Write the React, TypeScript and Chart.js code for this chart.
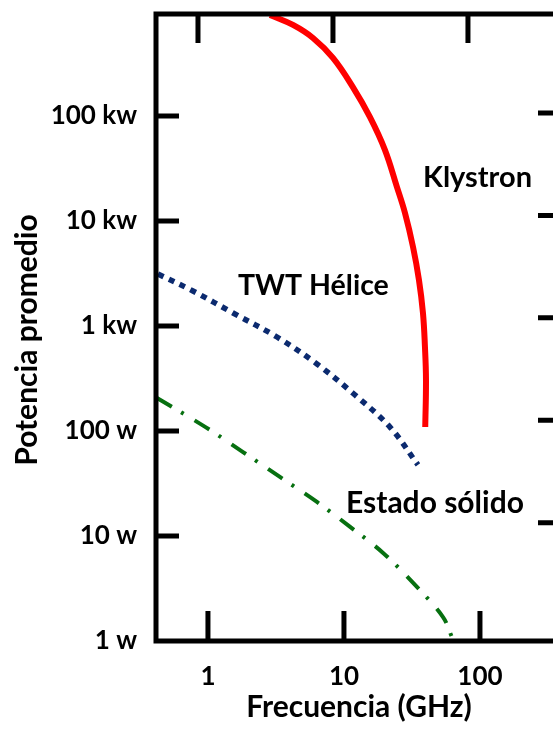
import React, { useEffect, useRef } from "react";
import { Chart, registerables } from "chart.js";

Chart.register(...registerables);

// Frequency (GHz) and average power (W)
const klystronFreq = [2.86, 4.22, 5.92, 8.3, 11.6, 15.5, 20.0, 24.5, 28.1, 32.2, 35.6, 38.1, 39.4, 40.1, 39.6];
const klystronPower = [916000, 736000, 553000, 357000, 189000, 97800, 47500, 21100, 11900, 5650, 2740, 1330, 631, 306, 109];

const twtFreq = [0.429, 0.776, 1.53, 3.22, 6.33, 11.6, 21.8, 35.0];
const twtPower = [3126, 2154, 1330, 785, 435, 230, 109, 47.5];

const ssFreq = [0.422, 0.98, 1.81, 3.38, 6.33, 11.1, 19.4, 34.4, 53.5, 62.2];
const ssPower = [206, 107, 63, 36.5, 21.1, 12.2, 6.9, 3.27, 1.69, 1.09];

const xTickValues = [1, 10, 100];
const xTickLabels = ["1", "10", "100"];
const yTickValues = [1, 10, 100, 1000, 10000, 100000];
const yTickLabels = ["1 w", "10 w", "100 w", "1 kw", "10 kw", "100 kw"];

const seriesNames = ["Klystron", "TWT Hélice", "Estado sólido"];
const xTitle = "Frecuencia (GHz)";
const yTitle = "Potencia promedio";

const FONT = "Lato";

const framePlugin = {
  id: "frame",
  afterDatasetsDraw(chart: any) {
    const { ctx, chartArea: a, scales } = chart;
    const x = scales.x, y = scales.y, x2 = scales.x2, y2 = scales.y2;
    ctx.save();
    ctx.strokeStyle = "#000";
    ctx.lineWidth = 5;
    ctx.lineJoin = "miter";
    ctx.lineCap = "butt";
    ctx.beginPath();
    ctx.moveTo(a.right + 5, a.top);
    ctx.lineTo(a.left, a.top);
    ctx.lineTo(a.left, a.bottom);
    ctx.lineTo(a.right + 5, a.bottom);
    ctx.stroke();

    ctx.lineWidth = 5;
    ctx.beginPath();
    for (const v of xTickValues) {
      const pb = x.getPixelForValue(v);
      ctx.moveTo(pb, a.bottom);
      ctx.lineTo(pb, a.bottom - 30);
      const pt = x2.getPixelForValue(v);
      ctx.moveTo(pt, a.top);
      ctx.lineTo(pt, a.top + 29);
    }
    for (const v of yTickValues) {
      if (v === 1) continue;
      const pl = y.getPixelForValue(v);
      ctx.moveTo(a.left, pl);
      ctx.lineTo(a.left + 23, pl);
      const pr = y2.getPixelForValue(v);
      ctx.moveTo(a.right, pr);
      ctx.lineTo(a.right - 15, pr);
    }
    ctx.stroke();

    // Text labels
    ctx.fillStyle = "#000";
    ctx.textBaseline = "alphabetic";
    ctx.textAlign = "left";
    ctx.font = `bold 29px ${FONT}`;
    ctx.fillText(seriesNames[0], 423, 187);
    ctx.font = `bold 28.5px ${FONT}`;
    ctx.fillText(seriesNames[1], 238, 295);
    ctx.font = `bold 30px ${FONT}`;
    ctx.fillText(seriesNames[2], 346, 513);

    ctx.font = `bold 30px ${FONT}`;
    ctx.textAlign = "center";
    ctx.fillText(xTitle, 359, 717);

    ctx.save();
    ctx.translate(37, 340);
    ctx.rotate(-Math.PI / 2);
    ctx.font = `bold 30px ${FONT}`;
    ctx.fillText(yTitle, 0, 0);
    ctx.restore();

    ctx.restore();
  },
};

export default function App() {
  const ref = useRef<HTMLCanvasElement | null>(null);

  useEffect(() => {
    if (!ref.current) return;
    const tickFont = { family: FONT, size: 26, weight: "bold" as const };
    const chart = new Chart(ref.current, {
      type: "line",
      data: {
        datasets: [
          {
            label: seriesNames[0],
            data: klystronFreq.map((f, i) => ({ x: f, y: klystronPower[i] })),
            borderColor: "#ff0000",
            borderWidth: 6,
            tension: 0.4,
            pointRadius: 0,
            fill: false,
          },
          {
            label: seriesNames[1],
            data: twtFreq.map((f, i) => ({ x: f, y: twtPower[i] })),
            borderColor: "#0b2a6f",
            borderWidth: 5.5,
            borderDash: [6, 6],
            borderCapStyle: "butt",
            tension: 0.35,
            pointRadius: 0,
            fill: false,
          },
          {
            label: seriesNames[2],
            data: ssFreq.map((f, i) => ({ x: f, y: ssPower[i] })),
            borderColor: "#077010",
            borderWidth: 4,
            borderDash: [17, 11, 3, 13],
            borderCapStyle: "butt",
            tension: 0.35,
            pointRadius: 0,
            fill: false,
          },
        ],
      },
      options: {
        responsive: false,
        animation: false,
        events: [],
        layout: { padding: { top: 14, right: 0, left: 0, bottom: 0 } },
        plugins: { legend: { display: false }, tooltip: { enabled: false } },
        scales: {
          x: {
            type: "logarithmic",
            position: "bottom",
            min: Math.pow(10, -0.382),
            max: Math.pow(10, 2.537),
            afterBuildTicks: (s: any) => {
              s.ticks = xTickValues.map((v) => ({ value: v }));
            },
            afterFit: (s: any) => {
              s.height = 93;
              s.paddingLeft = 0;
              s.paddingRight = 0;
            },
            ticks: {
              autoSkip: false,
              maxRotation: 0,
              color: "#000",
              font: tickFont,
              padding: 20,
              callback: (_v: any, i: number) => xTickLabels[i],
            },
            grid: { display: false, drawTicks: false },
            border: { display: false },
          },
          y: {
            type: "logarithmic",
            position: "left",
            min: 1,
            max: Math.pow(10, 5.971),
            afterBuildTicks: (s: any) => {
              s.ticks = yTickValues.map((v) => ({ value: v }));
            },
            afterFit: (s: any) => {
              s.width = 156;
              s.paddingTop = 0;
              s.paddingBottom = 0;
            },
            ticks: {
              autoSkip: false,
              color: "#000",
              font: tickFont,
              padding: 19,
              callback: (_v: any, i: number) => yTickLabels[i],
            },
            grid: { display: false, drawTicks: false },
            border: { display: false },
          },
          x2: {
            type: "logarithmic",
            position: "top",
            display: false,
            min: Math.pow(10, -0.311),
            max: Math.pow(10, 2.63),
          },
          y2: {
            type: "logarithmic",
            position: "right",
            display: false,
            min: Math.pow(10, -0.151),
            max: Math.pow(10, 5.966),
          },
        },
      },
      plugins: [framePlugin],
    } as any);
    return () => chart.destroy();
  }, []);

  return (
    <div style={{ position: "absolute", left: 0, top: 0, width: 553, height: 734, background: "#fff" }}>
      <canvas ref={ref} width={553} height={734} style={{ display: "block" }} />
    </div>
  );
}
